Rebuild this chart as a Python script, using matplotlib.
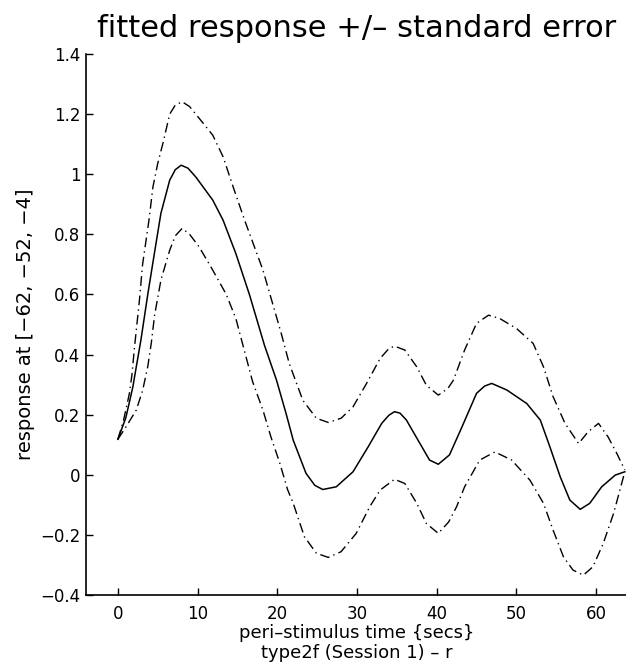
import matplotlib
matplotlib.use("Agg")
import matplotlib.pyplot as plt

# peri-stimulus time (s) and fitted response
t_mean = [0, 1.0, 1.86, 2.9, 3.75, 4.6, 5.4, 6.5, 7.2, 7.94, 8.8, 9.8, 11.9, 13.2,
          14.8, 16.5, 18.4, 19.9, 21.1, 22.0, 23.6, 24.7, 25.7, 27.4, 29.5, 31.4,
          33.1, 34.0, 34.7, 35.4, 36.2, 37.9, 39.1, 40.2, 41.6, 43.1, 45.0, 46.0,
          46.9, 48.8, 51.3, 53.0, 54.2, 55.5, 56.7, 58.0, 59.2, 60.7, 62.4, 63.6]
v_mean = [0.118, 0.19, 0.29, 0.45, 0.60, 0.74, 0.87, 0.98, 1.015, 1.03, 1.02,
          0.99, 0.914, 0.847, 0.736, 0.60, 0.43, 0.315, 0.204, 0.115, 0.005, -0.035,
          -0.049, -0.04, 0.01, 0.093, 0.171, 0.198, 0.21, 0.205, 0.182, 0.104,
          0.049, 0.035, 0.066, 0.155, 0.271, 0.295, 0.304, 0.282, 0.237, 0.182,
          0.093, -0.007, -0.084, -0.115, -0.095, -0.04, -0.001, 0.01]

t_upper = [0, 0.7, 1.44, 1.75, 2.07, 2.7, 3.1, 3.9, 4.4, 5.0, 5.7, 6.5, 7.2, 8.07,
           9.0, 10.2, 11.9, 13.2, 14.6, 15.9, 18.2, 20.5, 21.5, 23.2, 24.9, 26.4,
           28.0, 29.5, 31.2, 32.9, 34.0, 34.7, 36.0, 37.5, 38.7, 40.2, 41.4, 42.1,
           43.5, 45.0, 46.5, 47.9, 50.0, 52.1, 53.4, 54.6, 56.1, 57.8, 59.0, 60.3,
           61.5, 62.6, 63.6]
v_upper = [0.118, 0.18, 0.27, 0.33, 0.42, 0.58, 0.70, 0.847, 0.958, 1.036, 1.108,
           1.20, 1.23, 1.241, 1.225, 1.186, 1.13, 1.058, 0.947, 0.847, 0.681, 0.47,
           0.37, 0.248, 0.188, 0.174, 0.188, 0.226, 0.304, 0.387, 0.42, 0.428,
           0.415, 0.359, 0.298, 0.265, 0.287, 0.315, 0.415, 0.504, 0.531, 0.52,
           0.487, 0.437, 0.359, 0.26, 0.171, 0.104, 0.143, 0.171, 0.126, 0.071,
           0.016]

t_lower = [0, 1.03, 2.3, 3.1, 3.75, 4.2, 4.6, 5.4, 6.5, 7.2, 8.07, 9.0, 10.2, 11.9,
           13.6, 14.8, 15.6, 16.9, 18.2, 19.2, 20.3, 21.3, 22.0, 23.4, 24.9, 26.4,
           28.0, 29.9, 31.6, 32.9, 34.7, 36.0, 37.5, 38.7, 40.2, 41.5, 42.5, 43.5,
           45.4, 47.3, 49.4, 51.7, 53.4, 54.6, 55.9, 57.1, 58.4, 59.6, 60.9, 62.2,
           63.6]
v_lower = [0.118, 0.16, 0.215, 0.28, 0.36, 0.44, 0.53, 0.648, 0.747, 0.795, 0.82,
           0.80, 0.758, 0.681, 0.60, 0.52, 0.44, 0.31, 0.215, 0.126, 0.04,
           -0.05, -0.095, -0.206, -0.261, -0.275, -0.256, -0.195, -0.106, -0.051,
           -0.015, -0.029, -0.095, -0.162, -0.195, -0.157, -0.106, -0.04, 0.049,
           0.076, 0.049, -0.018, -0.095, -0.184, -0.273, -0.317, -0.334, -0.306,
           -0.228, -0.128, 0.01]

x_ticks = [0, 10, 20, 30, 40, 50, 60]
y_ticks = [-0.4, -0.2, 0, 0.2, 0.4, 0.6, 0.8, 1, 1.2, 1.4]
y_ticklabels = ["\u22120.4", "\u22120.2", "0", "0.2", "0.4", "0.6", "0.8", "1", "1.2", "1.4"]

W, H = 626, 665
fig = plt.figure(figsize=(W / 100, H / 100), dpi=100)
ax = fig.add_axes([86 / W, 70 / H, (628 - 86) / W, (595 - 54) / H])

dashdot = (0, (7, 3, 1, 3))
ax.plot(t_mean, v_mean, color="black", lw=1.1, ls="-")
ax.plot(t_upper, v_upper, color="black", lw=1.0, ls=dashdot)
ax.plot(t_lower, v_lower, color="black", lw=1.0, ls=dashdot)

ax.set_xlim(-4, 64)
ax.set_ylim(-0.4, 1.4)
ax.set_xticks(x_ticks)
ax.set_yticks(y_ticks)
ax.set_yticklabels(y_ticklabels)
ax.tick_params(direction="in", length=5, width=1, labelsize=12)
ax.tick_params(axis="x", pad=7)
ax.tick_params(axis="y", pad=4)
for s in ("top", "right"):
    ax.spines[s].set_visible(False)
for s in ("left", "bottom"):
    ax.spines[s].set_linewidth(1.2)

ax.set_title("fitted response +/\u2013 standard error", fontsize=22, pad=12)
ax.set_xlabel("peri\u2013stimulus time {secs}\ntype2f (Session 1) \u2013 r",
              fontsize=13, linespacing=1.15, labelpad=1)
ax.set_ylabel("response at [\u221262, \u221252, \u22124]", fontsize=14)
ax.yaxis.set_label_coords(-0.094, 0.5)

fig.savefig("out.png", dpi=100)
